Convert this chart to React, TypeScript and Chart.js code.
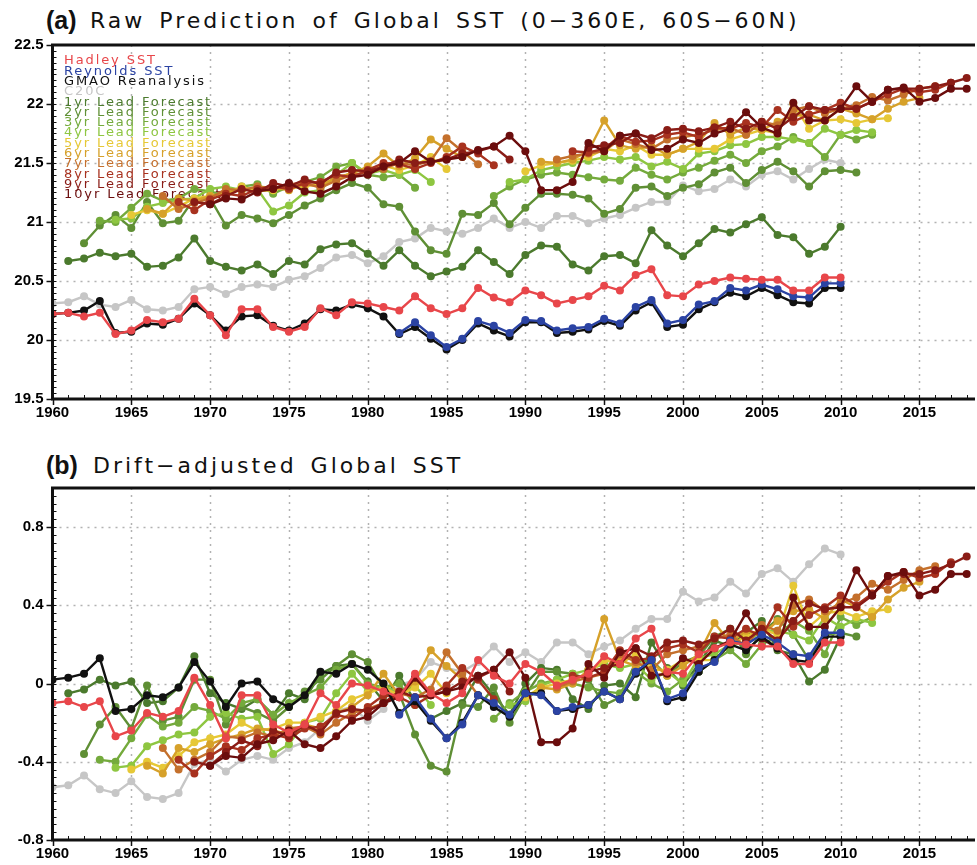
import React, { useEffect, useRef } from "react";
import { Chart, registerables } from "chart.js";

Chart.register(...registerables);

// ---------- axes ----------
const X_MIN = 1960;
const X_MAX = 2018.4;
const X_TICKS = [1960, 1965, 1970, 1975, 1980, 1985, 1990, 1995, 2000, 2005, 2010, 2015];
const A_Y_TICKS = [19.5, 20, 20.5, 21, 21.5, 22, 22.5];
const B_Y_TICKS = [-0.8, -0.4, 0, 0.4, 0.8];

// ---------- series meta ----------
const SERIES_NAMES = [
  "Hadley SST", "Reynolds SST", "GMAO Reanalysis", "C20C",
  "1yr Lead Forecast", "2yr Lead Forecast", "3yr Lead Forecast", "4yr Lead Forecast",
  "5yr Lead Forecast", "6yr Lead Forecast", "7yr Lead Forecast", "8yr Lead Forecast",
  "9yr Lead Forecast", "10yr Lead Forecast",
];
const SERIES_COLORS = [
  "#e8464a", "#2b43a3", "#111111", "#c6c6c6",
  "#4b7a2d", "#5f8f35", "#74aa3c", "#8ec641",
  "#e6c836", "#d6a12a", "#c4702c", "#a8321f",
  "#8a1c16", "#6b0d0d",
];
const SERIES_STARTS = [1960, 1982, 1960, 1960, 1961, 1962, 1963, 1964, 1965, 1966, 1967, 1968, 1969, 1970];

// ---------- panel (a): raw values ----------
const hadleyA = [20.22, 20.23, 20.20, 20.23, 20.05, 20.08, 20.17, 20.15, 20.18, 20.35, 20.21, 20.04, 20.26, 20.26, 20.11, 20.07, 20.11, 20.27, 20.21, 20.32, 20.31, 20.28, 20.25, 20.37, 20.27, 20.22, 20.27, 20.44, 20.36, 20.32, 20.42, 20.38, 20.31, 20.34, 20.37, 20.46, 20.42, 20.55, 20.60, 20.38, 20.37, 20.47, 20.50, 20.53, 20.52, 20.51, 20.51, 20.42, 20.42, 20.53, 20.53];
const reynoldsA = [20.06, 20.15, 20.04, 19.94, 20.01, 20.16, 20.12, 20.06, 20.17, 20.16, 20.08, 20.10, 20.11, 20.18, 20.14, 20.28, 20.34, 20.14, 20.17, 20.30, 20.33, 20.44, 20.42, 20.47, 20.43, 20.37, 20.36, 20.48, 20.48];
const gmaoA = [20.22, 20.23, 20.25, 20.33, 20.06, 20.07, 20.14, 20.13, 20.18, 20.31, 20.21, 20.08, 20.20, 20.21, 20.12, 20.08, 20.14, 20.26, 20.25, 20.30, 20.27, 20.20, 20.05, 20.11, 20.01, 19.92, 20.00, 20.14, 20.08, 20.03, 20.15, 20.15, 20.06, 20.07, 20.09, 20.16, 20.12, 20.25, 20.32, 20.11, 20.13, 20.26, 20.32, 20.40, 20.37, 20.44, 20.38, 20.32, 20.31, 20.44, 20.44];
const c20cA = [20.31, 20.32, 20.37, 20.30, 20.28, 20.34, 20.26, 20.25, 20.28, 20.43, 20.45, 20.39, 20.45, 20.47, 20.45, 20.51, 20.54, 20.61, 20.70, 20.72, 20.65, 20.71, 20.83, 20.86, 20.95, 20.92, 20.90, 20.95, 21.03, 20.95, 21.00, 20.95, 21.05, 21.05, 20.99, 21.03, 21.06, 21.12, 21.17, 21.17, 21.31, 21.26, 21.28, 21.36, 21.30, 21.40, 21.43, 21.36, 21.45, 21.53, 21.50];
const lead1A = [20.67, 20.69, 20.74, 20.71, 20.73, 20.62, 20.63, 20.70, 20.86, 20.67, 20.62, 20.59, 20.64, 20.56, 20.67, 20.64, 20.77, 20.81, 20.82, 20.73, 20.63, 20.76, 20.63, 20.54, 20.58, 20.62, 20.76, 20.66, 20.56, 20.72, 20.80, 20.79, 20.64, 20.59, 20.71, 20.72, 20.65, 20.93, 20.80, 20.71, 20.82, 20.94, 20.91, 20.98, 21.04, 20.89, 20.87, 20.73, 20.79, 20.96];
const lead2A = [20.82, 20.97, 21.06, 20.95, 21.17, 20.99, 21.01, 21.20, 21.20, 20.97, 21.06, 21.03, 20.99, 21.06, 21.14, 21.20, 21.27, 21.33, 21.29, 21.15, 21.13, 20.92, 20.76, 20.73, 21.07, 21.06, 21.16, 20.98, 21.12, 21.24, 21.24, 21.23, 21.20, 21.07, 21.11, 21.29, 21.30, 21.22, 21.29, 21.32, 21.42, 21.46, 21.33, 21.44, 21.51, 21.43, 21.30, 21.43, 21.44, 21.42];
const lead3A = [21.01, 21.00, 21.12, 21.24, 21.18, 21.20, 21.28, 21.26, 21.22, 21.30, 21.32, 21.24, 21.30, 21.34, 21.38, 21.47, 21.50, 21.40, 21.38, 21.40, 21.29, null, null, null, null, 21.22, 21.30, 21.36, 21.40, 21.42, 21.40, 21.38, 21.36, 21.35, 21.46, 21.40, 21.36, 21.42, 21.46, 21.52, 21.57, 21.50, 21.60, 21.64, 21.72, 21.67, 21.55, 21.74, 21.70, 21.74];
const lead4A = [21.02, 21.03, 21.13, 21.16, 21.19, 21.20, 21.28, 21.30, 21.27, 21.28, 21.09, 21.14, 21.25, 21.27, 21.40, 21.50, 21.41, 21.44, 21.40, 21.44, 21.34, null, null, null, null, 21.34, 21.36, 21.44, 21.47, 21.50, 21.52, 21.55, 21.53, 21.55, 21.47, 21.51, 21.45, 21.58, 21.60, 21.65, 21.66, 21.72, 21.72, 21.70, 21.67, 21.79, 21.74, 21.78, 21.76];
const lead5A = [21.06, 21.10, 21.07, 21.13, 21.20, 21.22, 21.24, 21.30, 21.26, 21.27, 21.30, 21.30, 21.33, 21.36, 21.42, 21.45, 21.48, 21.44, 21.48, 21.55, 21.45, null, null, null, null, 21.43, 21.48, 21.50, 21.52, 21.55, 21.62, 21.60, 21.65, 21.57, 21.57, 21.62, 21.62, 21.62, 21.70, 21.74, 21.78, 21.75, 22.00, 21.79, 21.86, 21.87, 21.84, 21.87, 21.88];
const lead6A = [21.11, 21.07, 21.20, 21.18, 21.22, 21.25, 21.27, 21.30, 21.29, 21.27, 21.32, 21.30, 21.38, 21.41, 21.47, 21.58, 21.47, 21.54, 21.70, 21.62, 21.55, null, null, null, null, 21.51, 21.50, 21.53, 21.60, 21.86, 21.65, 21.62, 21.64, 21.57, 21.62, 21.68, 21.84, 21.74, 21.80, 21.78, 21.85, 21.90, 21.91, 21.86, 21.96, 21.92, 21.87, 21.96, 22.02, 22.05];
const lead7A = [21.22, 21.11, 21.16, 21.20, 21.28, 21.27, 21.30, 21.28, 21.32, 21.33, 21.29, 21.35, 21.40, 21.42, 21.45, 21.50, 21.48, 21.52, 21.71, 21.60, 21.49, null, null, null, null, 21.53, 21.56, 21.58, 21.60, 21.70, 21.66, 21.62, 21.70, 21.72, 21.74, 21.78, 21.80, 21.74, 21.85, 21.82, 21.95, 21.98, 21.92, 21.96, 21.99, 22.06, 22.03, 22.08, 22.13, 22.15];
const lead8A = [21.17, 21.10, 21.19, 21.24, 21.22, 21.28, 21.30, 21.28, 21.33, 21.34, 21.40, 21.38, 21.44, 21.50, 21.49, 21.45, 21.50, 21.55, 21.64, 21.58, 21.48, null, null, null, null, 21.60, 21.59, 21.62, 21.73, 21.68, 21.69, 21.74, 21.76, 21.72, 21.80, 21.79, 21.84, 21.80, 21.95, 21.85, 21.91, 21.95, 22.01, 21.96, 22.02, 22.08, 22.13, 22.10, 22.12, 22.18];
const lead9A = [21.17, 21.15, 21.22, 21.28, 21.25, 21.33, 21.30, 21.36, 21.32, 21.42, 21.44, 21.43, 21.47, 21.53, 21.50, 21.51, 21.53, 21.58, 21.60, 21.64, 21.53, null, null, null, null, 21.63, 21.65, 21.67, 21.75, 21.71, 21.78, 21.79, 21.77, 21.80, 21.85, 21.79, 21.85, 21.79, 21.89, 21.98, 21.95, 21.96, 21.96, 22.02, 22.12, 22.13, 22.13, 22.15, 22.18, 22.22];
const lead10A = [21.15, 21.20, 21.19, 21.26, 21.28, 21.33, 21.26, 21.24, 21.30, 21.38, 21.40, 21.47, 21.50, 21.60, 21.51, 21.53, 21.55, 21.61, 21.64, 21.73, 21.60, 21.27, 21.27, 21.34, 21.67, 21.60, 21.73, 21.75, 21.61, 21.62, 21.70, 21.67, 21.75, 21.79, 21.93, 21.80, 21.75, 22.01, 21.86, 21.86, 21.96, 22.15, 22.02, 22.12, 22.14, 22.02, 22.05, 22.13, 22.13];

// ---------- panel (b): drift-adjusted anomalies ----------
const hadleyB = [-0.10, -0.09, -0.12, -0.09, -0.27, -0.24, -0.15, -0.17, -0.14, 0.03, -0.11, -0.28, -0.06, -0.06, -0.21, -0.25, -0.21, -0.05, -0.11, 0.00, -0.01, -0.04, -0.07, 0.05, -0.05, -0.10, -0.05, 0.12, 0.04, 0.00, 0.10, 0.06, -0.01, 0.02, 0.05, 0.14, 0.10, 0.23, 0.28, 0.06, 0.05, 0.15, 0.18, 0.21, 0.20, 0.19, 0.19, 0.10, 0.10, 0.21, 0.21];
const reynoldsB = [-0.16, -0.07, -0.18, -0.28, -0.21, -0.06, -0.10, -0.16, -0.05, -0.06, -0.14, -0.12, -0.11, -0.04, -0.08, 0.06, 0.12, -0.08, -0.05, 0.08, 0.11, 0.22, 0.20, 0.25, 0.21, 0.15, 0.14, 0.26, 0.26];
const gmaoB = [0.02, 0.03, 0.05, 0.13, -0.14, -0.13, -0.06, -0.07, -0.02, 0.11, 0.01, -0.12, 0.00, 0.01, -0.08, -0.12, -0.06, 0.06, 0.05, 0.10, 0.07, 0.00, -0.15, -0.09, -0.19, -0.28, -0.20, -0.06, -0.12, -0.17, -0.05, -0.05, -0.14, -0.13, -0.11, -0.04, -0.08, 0.05, 0.12, -0.09, -0.07, 0.06, 0.12, 0.20, 0.17, 0.24, 0.18, 0.12, 0.11, 0.24, 0.24];
const c20cB = [-0.53, -0.52, -0.47, -0.54, -0.56, -0.50, -0.58, -0.59, -0.56, -0.41, -0.39, -0.45, -0.39, -0.37, -0.39, -0.33, -0.30, -0.23, -0.14, -0.12, -0.19, -0.13, -0.01, 0.02, 0.11, 0.08, 0.06, 0.11, 0.19, 0.11, 0.16, 0.11, 0.21, 0.21, 0.15, 0.19, 0.22, 0.28, 0.33, 0.33, 0.47, 0.42, 0.44, 0.52, 0.46, 0.56, 0.59, 0.52, 0.61, 0.69, 0.66];
const lead1B = [-0.05, -0.03, 0.02, -0.01, 0.01, -0.10, -0.09, -0.02, 0.14, -0.05, -0.10, -0.13, -0.08, -0.16, -0.05, -0.08, 0.05, 0.09, 0.10, 0.01, -0.09, 0.04, -0.09, -0.18, -0.14, -0.10, 0.04, -0.06, -0.16, 0.00, 0.08, 0.07, -0.08, -0.13, -0.01, 0.00, -0.07, 0.21, 0.08, -0.01, 0.10, 0.22, 0.19, 0.26, 0.32, 0.17, 0.15, 0.01, 0.07, 0.24];
const lead2B = [-0.36, -0.21, -0.12, -0.23, -0.01, -0.19, -0.17, 0.02, 0.02, -0.21, -0.12, -0.15, -0.19, -0.12, -0.04, 0.02, 0.09, 0.15, 0.11, -0.03, -0.05, -0.26, -0.42, -0.45, -0.11, -0.12, -0.02, -0.20, -0.06, 0.06, 0.06, 0.05, 0.02, -0.11, -0.07, 0.11, 0.12, 0.04, 0.11, 0.14, 0.24, 0.28, 0.15, 0.26, 0.33, 0.25, 0.12, 0.25, 0.26, 0.24];
const lead3B = [-0.39, -0.40, -0.28, -0.16, -0.22, -0.20, -0.12, -0.14, -0.18, -0.10, -0.08, -0.16, -0.10, -0.06, -0.02, 0.07, 0.10, 0.00, -0.02, 0.00, -0.11, null, null, null, null, -0.18, -0.10, -0.04, 0.00, 0.02, 0.00, -0.02, -0.04, -0.05, 0.06, 0.00, -0.04, 0.02, 0.06, 0.12, 0.17, 0.10, 0.20, 0.24, 0.32, 0.27, 0.15, 0.34, 0.30, 0.34];
const lead4B = [-0.43, -0.42, -0.32, -0.29, -0.26, -0.25, -0.17, -0.15, -0.18, -0.17, -0.36, -0.31, -0.20, -0.18, -0.05, 0.05, -0.04, -0.01, -0.05, -0.01, -0.11, null, null, null, null, -0.11, -0.09, -0.01, 0.02, 0.05, 0.07, 0.10, 0.08, 0.10, 0.02, 0.06, 0.00, 0.13, 0.15, 0.20, 0.21, 0.27, 0.27, 0.25, 0.22, 0.34, 0.29, 0.33, 0.31];
const lead5B = [-0.44, -0.40, -0.43, -0.37, -0.30, -0.28, -0.26, -0.20, -0.24, -0.23, -0.20, -0.20, -0.17, -0.14, -0.08, -0.05, -0.02, -0.06, -0.02, 0.05, -0.05, null, null, null, null, -0.07, -0.02, 0.00, 0.02, 0.05, 0.12, 0.10, 0.15, 0.07, 0.07, 0.12, 0.12, 0.12, 0.20, 0.24, 0.28, 0.25, 0.50, 0.29, 0.36, 0.37, 0.34, 0.37, 0.38];
const lead6B = [-0.42, -0.46, -0.33, -0.35, -0.31, -0.28, -0.26, -0.23, -0.24, -0.26, -0.21, -0.23, -0.15, -0.12, -0.06, 0.05, -0.06, 0.01, 0.17, 0.09, 0.02, null, null, null, null, -0.02, -0.03, 0.00, 0.07, 0.33, 0.12, 0.09, 0.11, 0.04, 0.09, 0.15, 0.31, 0.21, 0.27, 0.25, 0.32, 0.37, 0.38, 0.33, 0.43, 0.39, 0.34, 0.43, 0.49, 0.52];
const lead7B = [-0.33, -0.44, -0.39, -0.35, -0.27, -0.28, -0.25, -0.27, -0.23, -0.22, -0.26, -0.20, -0.15, -0.13, -0.10, -0.05, -0.07, -0.03, 0.16, 0.05, -0.06, null, null, null, null, -0.02, 0.01, 0.03, 0.05, 0.15, 0.11, 0.07, 0.15, 0.17, 0.19, 0.23, 0.25, 0.19, 0.30, 0.27, 0.40, 0.43, 0.37, 0.41, 0.44, 0.51, 0.48, 0.53, 0.58, 0.60];
const lead8B = [-0.39, -0.46, -0.37, -0.32, -0.34, -0.28, -0.26, -0.28, -0.23, -0.22, -0.16, -0.18, -0.12, -0.06, -0.07, -0.11, -0.06, -0.01, 0.08, 0.02, -0.08, null, null, null, null, 0.04, 0.03, 0.06, 0.17, 0.12, 0.13, 0.18, 0.20, 0.16, 0.24, 0.23, 0.28, 0.24, 0.39, 0.29, 0.35, 0.39, 0.45, 0.40, 0.46, 0.52, 0.57, 0.54, 0.56, 0.62];
const lead9B = [-0.40, -0.42, -0.35, -0.29, -0.32, -0.24, -0.27, -0.21, -0.25, -0.15, -0.13, -0.14, -0.10, -0.04, -0.07, -0.06, -0.04, 0.01, 0.03, 0.07, -0.04, null, null, null, null, 0.06, 0.08, 0.10, 0.18, 0.14, 0.21, 0.22, 0.20, 0.23, 0.28, 0.22, 0.28, 0.22, 0.32, 0.41, 0.38, 0.39, 0.39, 0.45, 0.55, 0.56, 0.56, 0.58, 0.61, 0.65];
const lead10B = [-0.42, -0.37, -0.38, -0.31, -0.29, -0.24, -0.31, -0.33, -0.27, -0.19, -0.17, -0.10, -0.07, 0.03, -0.06, -0.04, -0.02, 0.04, 0.07, 0.16, 0.03, -0.30, -0.30, -0.23, 0.10, 0.03, 0.16, 0.18, 0.04, 0.05, 0.13, 0.10, 0.18, 0.22, 0.36, 0.23, 0.18, 0.44, 0.29, 0.29, 0.39, 0.58, 0.45, 0.55, 0.57, 0.45, 0.48, 0.56, 0.56];

const PANEL_A_VALUES = [hadleyA, reynoldsA, gmaoA, c20cA, lead1A, lead2A, lead3A, lead4A, lead5A, lead6A, lead7A, lead8A, lead9A, lead10A];
const PANEL_B_VALUES = [hadleyB, reynoldsB, gmaoB, c20cB, lead1B, lead2B, lead3B, lead4B, lead5B, lead6B, lead7B, lead8B, lead9B, lead10B];

// drawing order: first dataset ends up on top
const DRAW_ORDER = [0, 1, 2, 13, 12, 11, 10, 9, 8, 7, 6, 5, 4, 3];

const TICK_FONT = { family: '"Liberation Sans", Arial, sans-serif', size: 15, weight: "bold" as const };

function buildDatasets(values: (number | null)[][]) {
  return DRAW_ORDER.map((si) => ({
    label: SERIES_NAMES[si],
    data: values[si].map((v, i) => ({ x: SERIES_STARTS[si] + i, y: v })),
    borderColor: SERIES_COLORS[si],
    backgroundColor: SERIES_COLORS[si],
    pointBackgroundColor: SERIES_COLORS[si],
    pointBorderWidth: 0,
    pointRadius: 4,
    borderWidth: 2.4,
    tension: 0,
    spanGaps: false,
  }));
}

const decorPlugin = {
  id: "decor",
  beforeDatasetsDraw(chart: any, _args: any, opts: any) {
    const { ctx, chartArea: ca, scales } = chart;
    const x = scales.x;
    const y = scales.y;
    ctx.save();
    ctx.strokeStyle = "#b2b2b2";
    ctx.lineWidth = 1.5;
    ctx.setLineDash([2, 5]);
    for (const t of X_TICKS) {
      if (t === X_MIN) continue;
      const px = Math.round(x.getPixelForValue(t)) + 0.5;
      ctx.beginPath();
      ctx.moveTo(px, ca.top);
      ctx.lineTo(px, ca.bottom);
      ctx.stroke();
    }
    for (const t of opts.yTicks as number[]) {
      if (t <= y.min || t >= y.max) continue;
      const py = Math.round(y.getPixelForValue(t)) + 0.5;
      ctx.beginPath();
      ctx.moveTo(ca.left, py);
      ctx.lineTo(ca.right, py);
      ctx.stroke();
    }
    ctx.setLineDash([]);
    if (opts.legend) {
      ctx.font = '13px "DejaVu Sans", sans-serif';
      (ctx as any).letterSpacing = "1.9px";
      ctx.textBaseline = "middle";
      ctx.textAlign = "left";
      SERIES_NAMES.forEach((name, i) => {
        ctx.fillStyle = SERIES_COLORS[i];
        ctx.fillText(name, ca.left + 11.5, ca.top + 16 + i * 10.3);
      });
      (ctx as any).letterSpacing = "0px";
    }
    ctx.restore();
  },
  afterDraw(chart: any, _args: any, opts: any) {
    const { ctx, chartArea: ca, scales } = chart;
    const x = scales.x;
    const y = scales.y;
    ctx.save();
    ctx.strokeStyle = "#111";
    // minor ticks (inward)
    ctx.lineWidth = 1;
    for (let v = y.min; v <= y.max + 1e-9; v += opts.yMinor) {
      const py = Math.round(y.getPixelForValue(v)) + 0.5;
      ctx.beginPath();
      ctx.moveTo(ca.left, py);
      ctx.lineTo(ca.left + 4, py);
      ctx.stroke();
    }
    for (let yr = 1960; yr <= 2018; yr++) {
      const px = Math.round(x.getPixelForValue(yr)) + 0.5;
      ctx.beginPath();
      ctx.moveTo(px, ca.bottom);
      ctx.lineTo(px, ca.bottom - 4);
      ctx.stroke();
    }
    // major ticks (outward)
    ctx.lineWidth = 1.5;
    for (const t of opts.yTicks as number[]) {
      const py = Math.round(y.getPixelForValue(t)) + 0.5;
      ctx.beginPath();
      ctx.moveTo(ca.left - 6, py);
      ctx.lineTo(ca.left, py);
      ctx.stroke();
    }
    for (const t of X_TICKS) {
      const px = Math.round(x.getPixelForValue(t)) + 0.5;
      ctx.beginPath();
      ctx.moveTo(px, ca.bottom);
      ctx.lineTo(px, ca.bottom + 6);
      ctx.stroke();
    }
    // frame
    ctx.lineWidth = 3;
    ctx.beginPath();
    ctx.moveTo(ca.right + 2, ca.top);
    ctx.lineTo(ca.left, ca.top);
    ctx.lineTo(ca.left, ca.bottom);
    ctx.lineTo(ca.right + 2, ca.bottom);
    ctx.stroke();
    ctx.restore();
  },
};

function formatA(v: number) {
  const r = Math.round(v * 10) / 10;
  return Number.isInteger(r) ? String(r) : r.toFixed(1);
}
function formatB(v: number) {
  const r = Math.round(v * 10) / 10;
  if (r > 0.9) return "";
  if (r === 0) return "0";
  return r.toFixed(1);
}

function makeConfig(values: (number | null)[][], panel: "a" | "b"): any {
  const isA = panel === "a";
  const yTicks = isA ? A_Y_TICKS : B_Y_TICKS;
  return {
    type: "line",
    data: { datasets: buildDatasets(values) },
    options: {
      animation: false,
      responsive: false,
      maintainAspectRatio: false,
      events: [],
      layout: { padding: { top: isA ? 45 : 48, right: 0, left: 0, bottom: 0 } },
      plugins: {
        legend: { display: false },
        tooltip: { enabled: false },
        title: { display: false },
        decor: { yTicks, yMinor: isA ? 0.05 : 0.04, legend: isA },
      },
      scales: {
        x: {
          type: "linear",
          min: X_MIN,
          max: X_MAX,
          grid: { display: false, drawTicks: false },
          border: { display: false },
          afterBuildTicks: (s: any) => {
            s.ticks = X_TICKS.map((v) => ({ value: v }));
          },
          ticks: {
            autoSkip: false,
            maxRotation: 0,
            padding: 5,
            color: "#000",
            font: TICK_FONT,
            callback: (v: number) => String(v),
          },
          afterFit: (s: any) => {
            s.height = 21;
          },
        },
        y: {
          type: "linear",
          min: isA ? 19.5 : -0.8,
          max: isA ? 22.5 : 1.0,
          grid: { display: false, drawTicks: false },
          border: { display: false },
          afterBuildTicks: (s: any) => {
            s.ticks = yTicks.map((v) => ({ value: v }));
          },
          ticks: {
            autoSkip: false,
            padding: 9,
            color: "#000",
            font: TICK_FONT,
            callback: (v: number) => (isA ? formatA(v) : formatB(v)),
          },
          afterFit: (s: any) => {
            s.width = 52.5;
          },
        },
      },
    },
    plugins: [decorPlugin],
  };
}

const titleTextStyle: React.CSSProperties = {
  position: "absolute",
  fontFamily: '"DejaVu Sans", sans-serif',
  fontWeight: "normal",
  fontSize: 22,
  letterSpacing: "3px",
  wordSpacing: "4px",
  whiteSpace: "pre",
  color: "#111",
  lineHeight: "26px",
};
const titleTagStyle: React.CSSProperties = {
  position: "absolute",
  fontFamily: '"Liberation Sans", Arial, sans-serif',
  fontWeight: "bold",
  fontSize: 25,
  color: "#111",
  lineHeight: "28px",
  whiteSpace: "pre",
};

export default function App() {
  const refA = useRef<HTMLCanvasElement | null>(null);
  const refB = useRef<HTMLCanvasElement | null>(null);

  useEffect(() => {
    const chartA = new Chart(refA.current as HTMLCanvasElement, makeConfig(PANEL_A_VALUES, "a"));
    const chartB = new Chart(refB.current as HTMLCanvasElement, makeConfig(PANEL_B_VALUES, "b"));
    return () => {
      chartA.destroy();
      chartB.destroy();
    };
  }, []);

  return (
    <div style={{ position: "absolute", left: 0, top: 0, width: 977, height: 865, background: "#fff", overflow: "hidden" }}>
      <div style={{ ...titleTagStyle, left: 46, top: 6 }}>(a)</div>
      <div style={{ ...titleTextStyle, left: 90, top: 8 }}>Raw Prediction of Global SST (0−360E, 60S−60N)</div>
      <canvas ref={refA} width={977} height={420} style={{ position: "absolute", left: 0, top: 0, width: 977, height: 420 }} />
      <div style={{ ...titleTagStyle, left: 46, top: 451 }}>(b)</div>
      <div style={{ ...titleTextStyle, left: 93, top: 453 }}>Drift−adjusted Global SST</div>
      <canvas ref={refB} width={977} height={421} style={{ position: "absolute", left: 0, top: 440, width: 977, height: 421 }} />
    </div>
  );
}
